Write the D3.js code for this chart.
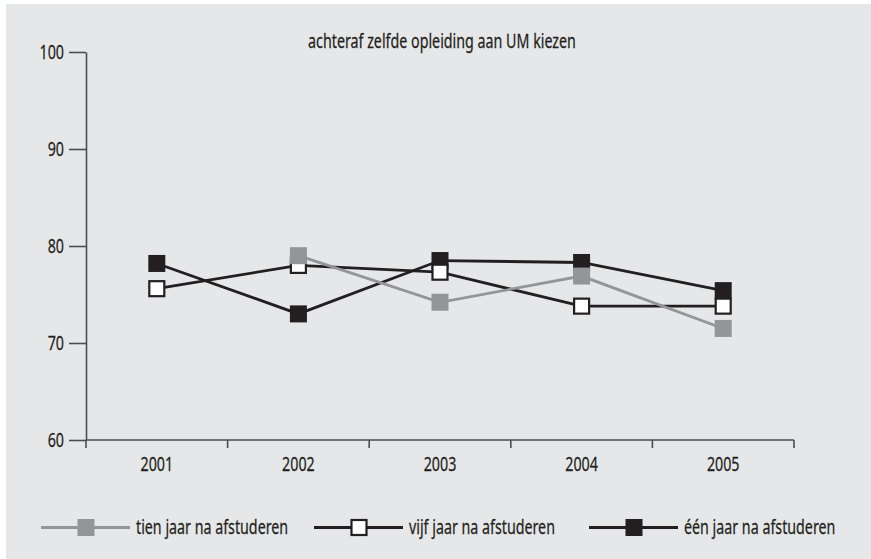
<!DOCTYPE html>
<html><head><meta charset="utf-8">
<script src="https://cdn.jsdelivr.net/npm/d3@7"></script>
<style>
html,body{margin:0;padding:0;background:#fff;}
svg text{font-family:"Noto Sans","Open Sans",sans-serif;fill:#231f20;stroke:#231f20;stroke-width:0.25px;}
</style></head>
<body>
<svg id="chart" width="871" height="559"></svg>
<script>
const title = "achteraf zelfde opleiding aan UM kiezen";
const years = ["2001","2002","2003","2004","2005"];
const yTicks = [60,70,80,90,100];
const seriesNames = ["tien jaar na afstuderen","vijf jaar na afstuderen","één jaar na afstuderen"];
const tienValues = [null, 79.0, 74.2, 76.9, 71.5];
const vijfValues = [75.6, 78.0, 77.3, 73.8, 73.8];
const eenValues  = [78.2, 73.0, 78.5, 78.3, 75.4];

const svg = d3.select("#chart");
const W = 871, H = 559;
const dark = "#231f20", grey = "#939598", axisCol = "#4d4d4f";
const fontSize = 20;

svg.append("rect").attr("x",6).attr("y",4).attr("width",W-6).attr("height",H-4).attr("fill","#e6e7e8");

const x = d3.scaleBand().domain(years).range([86,794]);
const y = d3.scaleLinear().domain([60,100]).range([440,52]);

// condensed look: squeeze text horizontally around its anchor point
let k = 1;
function squeeze(sel){
  sel.each(function(){
    const t = d3.select(this);
    const tx = +t.attr("x") || 0, ty = +t.attr("y") || 0;
    t.attr("transform",`translate(${tx},${ty}) scale(${k},1) translate(${-tx},${-ty})`);
  });
}

// title
const titleText = svg.append("text").attr("x",442).attr("y",48).attr("text-anchor","middle")
  .attr("font-size",fontSize).text(title);
k = 268 / titleText.node().getComputedTextLength();
squeeze(titleText);

// y axis
const yAxis = svg.append("g").attr("transform","translate(86,0)")
  .call(d3.axisLeft(y).tickValues(yTicks).tickSize(17).tickSizeOuter(0).tickPadding(5).tickFormat(d3.format("d")));
yAxis.selectAll("path,line").attr("stroke",axisCol).attr("stroke-width",1.6);
yAxis.selectAll("text").attr("font-size",fontSize).attr("font-family",null).attr("fill",dark).call(squeeze);

// x axis: line with ticks at band edges
const xg = svg.append("g");
const [x0, x1] = x.range();
xg.append("line").attr("x1",x0).attr("x2",x1).attr("y1",y(60)).attr("y2",y(60))
  .attr("stroke",axisCol).attr("stroke-width",1.6);
const edges = years.map(d => x(d)).concat([x1]);
xg.selectAll("line.tk").data(edges).join("line").attr("class","tk")
  .attr("x1",d=>d).attr("x2",d=>d).attr("y1",y(60)).attr("y2",y(60)+8)
  .attr("stroke",axisCol).attr("stroke-width",1.6);
xg.selectAll("text").data(years).join("text")
  .attr("x",d=>x(d)+x.bandwidth()/2).attr("y",471).attr("text-anchor","middle")
  .attr("font-size",fontSize).text(d=>d).call(squeeze);

// series
const series = [
  {name: seriesNames[2], values: eenValues, line: dark, fill: dark, stroke: null},
  {name: seriesNames[1], values: vijfValues, line: dark, fill: "#ffffff", stroke: dark},
  {name: seriesNames[0], values: tienValues, line: grey, fill: grey, stroke: null}
];
const cx = d => x(d) + x.bandwidth()/2;
const lineGen = d3.line().defined(d => d.v != null).x(d => cx(d.year)).y(d => y(d.v));
const ms = 17;
function drawMarker(g, px, py, s){
  if (s.stroke) {
    g.append("rect").attr("x",px-ms/2+1).attr("y",py-ms/2+1).attr("width",ms-2).attr("height",ms-2)
      .attr("fill",s.fill).attr("stroke",s.stroke).attr("stroke-width",2.2);
  } else {
    g.append("rect").attr("x",px-ms/2).attr("y",py-ms/2).attr("width",ms).attr("height",ms).attr("fill",s.fill);
  }
}
series.forEach(s => {
  const pts = years.map((yr,i) => ({year: yr, v: s.values[i]}));
  const g = svg.append("g");
  g.append("path").datum(pts).attr("d",lineGen).attr("fill","none")
    .attr("stroke",s.line).attr("stroke-width",2.8);
  pts.filter(p => p.v != null).forEach(p => drawMarker(g, cx(p.year), y(p.v), s));
});

// legend
const legendStarts = [41, 314, 589];
const legendY = 527.5;
const legendOrder = [series[2], series[1], series[0]];
legendOrder.forEach((s,i) => {
  const g = svg.append("g");
  const sx = legendStarts[i];
  g.append("line").attr("x1",sx).attr("x2",sx+89).attr("y1",legendY).attr("y2",legendY)
    .attr("stroke",s.line).attr("stroke-width",2.8);
  drawMarker(g, sx+45, legendY, s);
  g.append("text").attr("x",sx+95).attr("y",legendY+7).attr("font-size",fontSize).text(s.name).call(squeeze);
});
</script>
</body></html>
